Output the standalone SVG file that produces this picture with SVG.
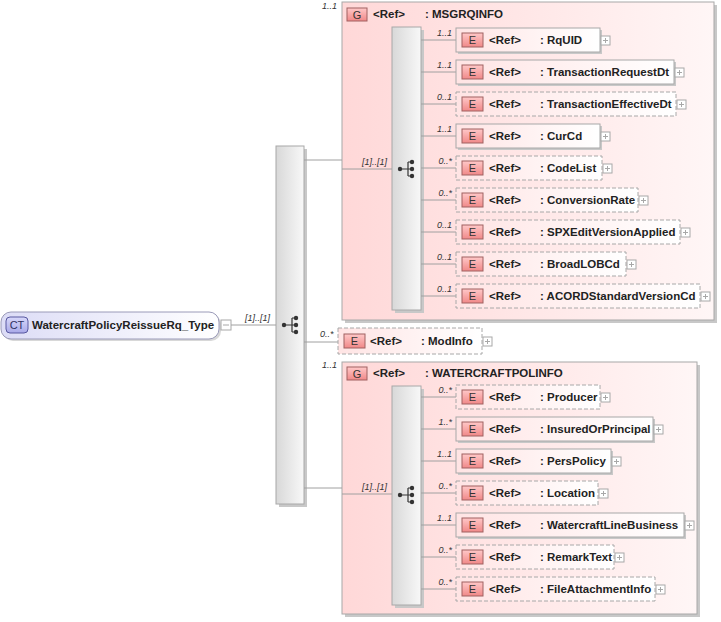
<svg xmlns="http://www.w3.org/2000/svg" width="721" height="622" viewBox="0 0 721 622">
<defs>
<linearGradient id="grpFill" x1="0" y1="0" x2="1" y2="0"><stop offset="0" stop-color="#FFD8D8"/><stop offset="1" stop-color="#FFF6F6"/></linearGradient>
<linearGradient id="elFill" x1="0" y1="0" x2="1" y2="0"><stop offset="0" stop-color="#FFE4E4"/><stop offset="1" stop-color="#FFFFFF"/></linearGradient>
<linearGradient id="badge" x1="0" y1="0" x2="0" y2="1"><stop offset="0" stop-color="#FFC8C8"/><stop offset="1" stop-color="#F08888"/></linearGradient>
<linearGradient id="comp" x1="0" y1="0" x2="1" y2="0"><stop offset="0" stop-color="#D8D8D8"/><stop offset="1" stop-color="#F8F8F8"/></linearGradient>
<linearGradient id="ctFill" x1="0" y1="0" x2="1" y2="0"><stop offset="0" stop-color="#DCDCF6"/><stop offset="1" stop-color="#FFFFFF"/></linearGradient>
<linearGradient id="ctBadge" x1="0" y1="0" x2="0" y2="1"><stop offset="0" stop-color="#D8D8FA"/><stop offset="1" stop-color="#A8A8E8"/></linearGradient>
<g id="seqIcon">
<circle cx="-6" cy="0" r="2.2"/>
<circle cx="6" cy="-7" r="2.2"/><circle cx="6" cy="0" r="2.2"/><circle cx="6" cy="7" r="2.2"/>
<path d="M-6 0H2M2 -7V7M2 -7H6M2 0H6M2 7H6" fill="none" stroke="#333" stroke-width="1.2"/>
</g>
<g id="plus"><rect x="0" y="0" width="9" height="9" fill="#fff" stroke="#A8A8A8"/><path d="M2 4.5H7M4.5 2V7" stroke="#A8A8A8"/></g>
</defs>
<style>
text{font-family:"Liberation Sans",Arial,sans-serif}
.nm{font-size:11.5px;font-weight:bold;fill:#222}
.bt{font-size:11px;fill:#333;text-anchor:middle}
.ml{font-size:9px;font-style:italic;fill:#333}
.mr{font-size:9px;font-style:italic;fill:#333;text-anchor:end}
.ln{stroke:#A0A0A0;stroke-width:1;fill:none}
.grp{fill:url(#grpFill);stroke:#A8A8A8}
.sh{fill:#C8C8C8}
.el{fill:url(#elFill);stroke:#A8A8A8}
.opt{stroke-dasharray:4,2}
.bd{fill:url(#badge);stroke:#A06060}
.cp{fill:url(#comp);stroke:#A8A8A8}
</style>

<g id="ct-node">
<rect x="3" y="314" width="218" height="27" rx="10" fill="#D8D8D8"/>
<rect x="1" y="312" width="218" height="27" rx="10" fill="url(#ctFill)" stroke="#9A9AB8"/>
<rect x="6" y="317" width="22" height="16" rx="4" fill="url(#ctBadge)" stroke="#5858A0"/>
<text x="17" y="329" style="font-size:11px;fill:#303060;text-anchor:middle">CT</text>
<text class="nm" x="32" y="329">WatercraftPolicyReissueRq_Type</text>
<rect x="221" y="320" width="10" height="10" fill="#fff" stroke="#A8A8A8"/><path d="M223 325H229" stroke="#A8A8A8"/>
</g>

<g id="main-sequence">
<rect class="sh" x="279" y="149" width="28" height="358"/>
<rect class="cp" x="276" y="146" width="28" height="358"/>
<use href="#seqIcon" x="290" y="325" fill="#333"/>
</g>

<g id="msgrqinfo">
<rect class="sh" x="345" y="5" width="372" height="318"/>
<rect class="grp" x="342" y="2" width="372" height="318"/>
<rect class="bd" x="347" y="8" width="20" height="13"/>
<text class="bt" x="357" y="19">G</text>
<text class="nm" x="373" y="18">&lt;Ref&gt;</text>
<text class="nm" x="425" y="18">: MSGRQINFO</text>
<rect class="sh" x="395" y="30" width="29" height="283"/>
<rect class="cp" x="392" y="27" width="29" height="283"/>
<use href="#seqIcon" x="406" y="169" fill="#333"/>
</g>

<g id="watercraftpolinfo">
<rect class="sh" x="345" y="365" width="355" height="252"/>
<rect class="grp" x="342" y="362" width="355" height="252"/>
<rect class="bd" x="347" y="367" width="20" height="13"/>
<text class="bt" x="357" y="378">G</text>
<text class="nm" x="373" y="377">&lt;Ref&gt;</text>
<text class="nm" x="425" y="377">: WATERCRAFTPOLINFO</text>
<rect class="sh" x="395" y="389" width="29" height="219"/>
<rect class="cp" x="392" y="386" width="29" height="219"/>
<use href="#seqIcon" x="406" y="495" fill="#333"/>
</g>

<g id="connectors">
<path class="ln" d="M231 325H276"/>
<text class="ml" x="245" y="321">[1]..[1]</text>
<path class="ln" d="M304 160H342"/>
<path class="ln" d="M304 342H338"/>
<path class="ln" d="M304 488H342"/>
<path class="ln" d="M342 169H392"/>
<text class="ml" x="362" y="165">[1]..[1]</text>
<path class="ln" d="M342 494H392"/>
<text class="ml" x="362" y="490">[1]..[1]</text>
<text class="ml" x="322" y="9">1..1</text>
<text class="ml" x="320" y="337">0..*</text>
<text class="ml" x="322" y="368">1..1</text>
<path class="ln" d="M421 40H456M421 72H456M421 104H456M421 136H456M421 168H456M421 200H456M421 232H456M421 264H456M421 296H456"/>
<text class="mr" x="452" y="36">1..1</text>
<text class="mr" x="452" y="68">1..1</text>
<text class="mr" x="452" y="100">0..1</text>
<text class="mr" x="452" y="132">1..1</text>
<text class="mr" x="452" y="164">0..*</text>
<text class="mr" x="452" y="196">0..*</text>
<text class="mr" x="452" y="228">0..1</text>
<text class="mr" x="452" y="260">0..1</text>
<text class="mr" x="452" y="292">0..1</text>
<path class="ln" d="M421 397H456M421 429H456M421 461H456M421 493H456M421 525H456M421 557H456M421 589H456"/>
<text class="mr" x="452" y="393">0..*</text>
<text class="mr" x="452" y="425">1..*</text>
<text class="mr" x="452" y="457">1..1</text>
<text class="mr" x="452" y="489">0..*</text>
<text class="mr" x="452" y="521">1..1</text>
<text class="mr" x="452" y="553">0..*</text>
<text class="mr" x="452" y="585">0..*</text>
</g>

<g id="el-RqUID"><rect class="sh" x="458" y="30" width="144" height="24"/><rect class="el" x="456" y="28" width="144" height="24"/><rect class="bd" x="462" y="33" width="21" height="14"/><text class="bt" x="472.5" y="44">E</text><text class="nm" x="489" y="44">&lt;Ref&gt;</text><text class="nm" x="540" y="44">: RqUID</text><use href="#plus" x="601" y="36"/></g>
<g id="el-TransactionRequestDt"><rect class="sh" x="458" y="62" width="218" height="24"/><rect class="el" x="456" y="60" width="218" height="24"/><rect class="bd" x="462" y="65" width="21" height="14"/><text class="bt" x="472.5" y="76">E</text><text class="nm" x="489" y="76">&lt;Ref&gt;</text><text class="nm" x="540" y="76">: TransactionRequestDt</text><use href="#plus" x="675" y="68"/></g>
<g id="el-TransactionEffectiveDt"><rect class="el opt" x="456" y="92" width="220" height="24"/><rect class="bd" x="462" y="97" width="21" height="14"/><text class="bt" x="472.5" y="108">E</text><text class="nm" x="489" y="108">&lt;Ref&gt;</text><text class="nm" x="540" y="108">: TransactionEffectiveDt</text><use href="#plus" x="677" y="100"/></g>
<g id="el-CurCd"><rect class="sh" x="458" y="126" width="144" height="24"/><rect class="el" x="456" y="124" width="144" height="24"/><rect class="bd" x="462" y="129" width="21" height="14"/><text class="bt" x="472.5" y="140">E</text><text class="nm" x="489" y="140">&lt;Ref&gt;</text><text class="nm" x="540" y="140">: CurCd</text><use href="#plus" x="601" y="132"/></g>
<g id="el-CodeList"><rect class="el opt" x="456" y="156" width="146" height="24"/><rect class="bd" x="462" y="161" width="21" height="14"/><text class="bt" x="472.5" y="172">E</text><text class="nm" x="489" y="172">&lt;Ref&gt;</text><text class="nm" x="540" y="172">: CodeList</text><use href="#plus" x="603" y="164"/></g>
<g id="el-ConversionRate"><rect class="el opt" x="456" y="188" width="182" height="24"/><rect class="bd" x="462" y="193" width="21" height="14"/><text class="bt" x="472.5" y="204">E</text><text class="nm" x="489" y="204">&lt;Ref&gt;</text><text class="nm" x="540" y="204">: ConversionRate</text><use href="#plus" x="639" y="196"/></g>
<g id="el-SPXEditVersionApplied"><rect class="el opt" x="456" y="220" width="224" height="24"/><rect class="bd" x="462" y="225" width="21" height="14"/><text class="bt" x="472.5" y="236">E</text><text class="nm" x="489" y="236">&lt;Ref&gt;</text><text class="nm" x="540" y="236">: SPXEditVersionApplied</text><use href="#plus" x="681" y="228"/></g>
<g id="el-BroadLOBCd"><rect class="el opt" x="456" y="252" width="170" height="24"/><rect class="bd" x="462" y="257" width="21" height="14"/><text class="bt" x="472.5" y="268">E</text><text class="nm" x="489" y="268">&lt;Ref&gt;</text><text class="nm" x="540" y="268">: BroadLOBCd</text><use href="#plus" x="627" y="260"/></g>
<g id="el-ACORDStandardVersionCd"><rect class="el opt" x="456" y="284" width="244" height="24"/><rect class="bd" x="462" y="289" width="21" height="14"/><text class="bt" x="472.5" y="300">E</text><text class="nm" x="489" y="300">&lt;Ref&gt;</text><text class="nm" x="540" y="300">: ACORDStandardVersionCd</text><use href="#plus" x="701" y="292"/></g>

<g id="el-ModInfo"><rect class="el opt" x="338" y="328" width="144" height="26"/><rect class="bd" x="344" y="334" width="21" height="14"/><text class="bt" x="354.5" y="345">E</text><text class="nm" x="370" y="345">&lt;Ref&gt;</text><text class="nm" x="421" y="345">: ModInfo</text><use href="#plus" x="483" y="337"/></g>

<g id="el-Producer"><rect class="el opt" x="456" y="385" width="144" height="24"/><rect class="bd" x="462" y="390" width="21" height="14"/><text class="bt" x="472.5" y="401">E</text><text class="nm" x="489" y="401">&lt;Ref&gt;</text><text class="nm" x="540" y="401">: Producer</text><use href="#plus" x="601" y="393"/></g>
<g id="el-InsuredOrPrincipal"><rect class="sh" x="458" y="419" width="197" height="24"/><rect class="el" x="456" y="417" width="197" height="24"/><rect class="bd" x="462" y="422" width="21" height="14"/><text class="bt" x="472.5" y="433">E</text><text class="nm" x="489" y="433">&lt;Ref&gt;</text><text class="nm" x="540" y="433">: InsuredOrPrincipal</text><use href="#plus" x="654" y="425"/></g>
<g id="el-PersPolicy"><rect class="sh" x="458" y="451" width="155" height="24"/><rect class="el" x="456" y="449" width="155" height="24"/><rect class="bd" x="462" y="454" width="21" height="14"/><text class="bt" x="472.5" y="465">E</text><text class="nm" x="489" y="465">&lt;Ref&gt;</text><text class="nm" x="540" y="465">: PersPolicy</text><use href="#plus" x="612" y="457"/></g>
<g id="el-Location"><rect class="el opt" x="456" y="481" width="142" height="24"/><rect class="bd" x="462" y="486" width="21" height="14"/><text class="bt" x="472.5" y="497">E</text><text class="nm" x="489" y="497">&lt;Ref&gt;</text><text class="nm" x="540" y="497">: Location</text><use href="#plus" x="599" y="489"/></g>
<g id="el-WatercraftLineBusiness"><rect class="sh" x="458" y="515" width="228" height="24"/><rect class="el" x="456" y="513" width="228" height="24"/><rect class="bd" x="462" y="518" width="21" height="14"/><text class="bt" x="472.5" y="529">E</text><text class="nm" x="489" y="529">&lt;Ref&gt;</text><text class="nm" x="540" y="529">: WatercraftLineBusiness</text><use href="#plus" x="685" y="521"/></g>
<g id="el-RemarkText"><rect class="el opt" x="456" y="545" width="158" height="24"/><rect class="bd" x="462" y="550" width="21" height="14"/><text class="bt" x="472.5" y="561">E</text><text class="nm" x="489" y="561">&lt;Ref&gt;</text><text class="nm" x="540" y="561">: RemarkText</text><use href="#plus" x="615" y="553"/></g>
<g id="el-FileAttachmentInfo"><rect class="el opt" x="456" y="577" width="199" height="24"/><rect class="bd" x="462" y="582" width="21" height="14"/><text class="bt" x="472.5" y="593">E</text><text class="nm" x="489" y="593">&lt;Ref&gt;</text><text class="nm" x="540" y="593">: FileAttachmentInfo</text><use href="#plus" x="656" y="585"/></g>
</svg>
